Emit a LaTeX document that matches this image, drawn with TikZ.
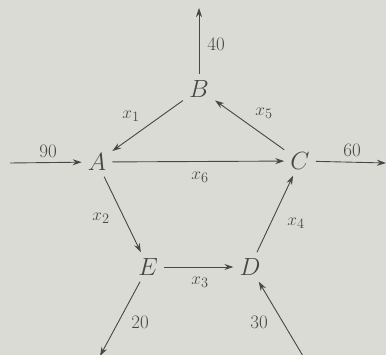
\documentclass[tikz,border=0pt]{standalone}
\usetikzlibrary{arrows.meta}
\definecolor{paper}{rgb}{0.86,0.86,0.84}
\definecolor{ink}{rgb}{0.28,0.28,0.28}
\begin{document}
\begin{tikzpicture}[x=1pt,y=-1pt,
  vert/.style={text=ink,font=\fontsize{26}{30}\selectfont,inner sep=6pt},
  lab/.style={text=ink,font=\fontsize{19}{22}\selectfont,inner sep=1pt},
  flow/.style={draw=ink,line width=0.9pt,-{Stealth[length=9pt,width=6pt]}}]
\fill[paper] (0,0) rectangle (386,355);
\useasboundingbox (0,0) rectangle (386,355);
\node[vert] (B) at (199,89) {$B$};
\node[vert] (A) at (97,162) {$A$};
\node[vert] (C) at (300,161) {$C$};
\node[vert] (E) at (148,267) {$E$};
\node[vert] (D) at (250,267) {$D$};
\coordinate (Btop) at (199,8);
\coordinate (Ain) at (10,163);
\coordinate (Cout) at (386,163);
\coordinate (Eout) at (100,356);
\coordinate (Din) at (303,356);
\draw[flow] (B) -- (Btop);
\draw[flow] (Ain) -- (A);
\draw[flow] (C) -- (Cout);
\draw[flow] (B) -- (A);
\draw[flow] (C) -- (B);
\draw[flow] (A) -- (C);
\draw[flow] (A) -- (E);
\draw[flow] (E) -- (D);
\draw[flow] (D) -- (C);
\draw[flow] (E) -- (Eout);
\draw[flow] (Din) -- (D);
\node[lab] (l40) at (216,44) {40};
\node[lab] (l90) at (48,151) {90};
\node[lab] (l60) at (352,150) {60};
\node[lab] (x1) at (131,116) {$x_1$};
\node[lab] (x5) at (264,113) {$x_5$};
\node[lab] (x6) at (200,177) {$x_6$};
\node[lab] (x2) at (101,218) {$x_2$};
\node[lab] (x4) at (296,223) {$x_4$};
\node[lab] (x3) at (200,282) {$x_3$};
\node[lab] (l20) at (140,322) {20};
\node[lab] (l30) at (259,322) {30};
\end{tikzpicture}
\end{document}
